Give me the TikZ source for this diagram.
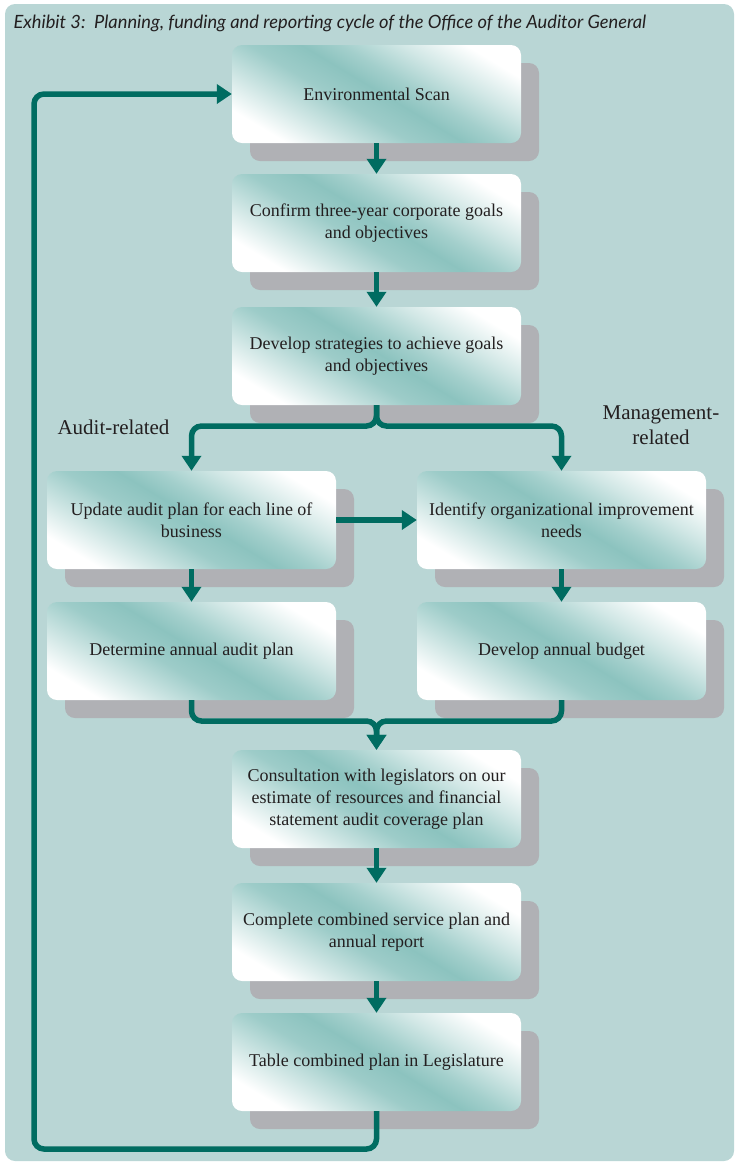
\documentclass[tikz,border=0pt]{standalone}
\usepackage{fontspec}
\setmainfont{Liberation Serif}
\newfontfamily\exhibitfont{Lato}
\usepackage{tikz}
\usetikzlibrary{arrows.meta,shadows}
\definecolor{panelbg}{RGB}{185,214,213}
\definecolor{boxteal}{RGB}{140,195,191}
\definecolor{flowgreen}{RGB}{0,108,97}
\definecolor{shadowgrey}{RGB}{176,177,181}
\definecolor{inkgrey}{RGB}{35,31,32}
\pgfdeclarehorizontalshading{boxfade}{100bp}{color(0bp)=(white); color(24bp)=(white); color(34bp)=(boxteal!45); color(43bp)=(boxteal!85); color(51bp)=(boxteal); color(57bp)=(boxteal!80); color(66bp)=(boxteal!40); color(76bp)=(white); color(100bp)=(white)}

\begin{document}
\begin{tikzpicture}[x=1pt,y=-1pt,
    stepbox/.style={rounded corners=10pt,shading=boxfade,shading angle=59,
      minimum width=289pt,minimum height=98pt,inner sep=0pt,align=center,
      text=inkgrey,font=\fontsize{18}{22}\selectfont,
      general shadow={fill=shadowgrey,shadow xshift=18pt,shadow yshift=-18pt}},
    flow/.style={draw=flowgreen,line width=5.5pt,rounded corners=10pt,
      -{Triangle[width=19pt,length=15pt]}},
    sidelabel/.style={text=inkgrey,align=center,font=\fontsize{21}{25}\selectfont}]
  \useasboundingbox (0,0) rectangle (736,1163);
  \fill[panelbg,rounded corners=10pt] (5,4) rectangle (734,1161);
  \node[anchor=base west,text=inkgrey,font=\exhibitfont\itshape\fontsize{18.3}{21}\selectfont] (title) at (10,28)
    {Exhibit 3:\ \ Planning, funding and reporting cycle of the Office of the Auditor General};

  \node[stepbox] (env) at (376.5,94) {Environmental Scan};
  \node[stepbox] (goals) at (376.5,223) {Confirm three-year corporate goals\\and objectives};
  \node[stepbox] (strat) at (376.5,356) {Develop strategies to achieve goals\\and objectives};
  \node[stepbox] (upd) at (191.5,520) {Update audit plan for each line of\\business};
  \node[stepbox] (idn) at (561.5,520) {Identify organizational improvement\\needs};
  \node[stepbox] (det) at (191.5,651) {Determine annual audit plan};
  \node[stepbox] (bud) at (561.5,651) {Develop annual budget};
  \node[stepbox] (cons) at (376.5,799) {Consultation with legislators on our\\estimate of resources and financial\\statement audit coverage plan};
  \node[stepbox] (serv) at (376.5,932) {Complete combined service plan and\\annual report};
  \node[stepbox] (tbl) at (376.5,1062) {Table combined plan in Legislature};

  \node[sidelabel] (audit) at (113.5,427) {Audit-related};
  \node[sidelabel] (mgmt) at (661,425) {Management-\\related};

  \coordinate (split) at (376.5,426);
  \coordinate (merge) at (376.5,721);
  \coordinate (back) at (34,1149);

  \draw[flow] (env) -- (goals);
  \draw[flow] (goals) -- (strat);
  \draw[flow] (strat) -- (split) -| (upd);
  \draw[flow] (strat) -- (split) -| (idn);
  \draw[flow] (upd) -- (idn);
  \draw[flow] (upd) -- (det);
  \draw[flow] (idn) -- (bud);
  \draw[flow] (det) |- (merge) -- (cons);
  \draw[flow] (bud) |- (merge) -- (cons);
  \draw[flow] (cons) -- (serv);
  \draw[flow] (serv) -- (tbl);
  \draw[flow] (tbl) |- (back) |- (env);
\end{tikzpicture}
\end{document}
